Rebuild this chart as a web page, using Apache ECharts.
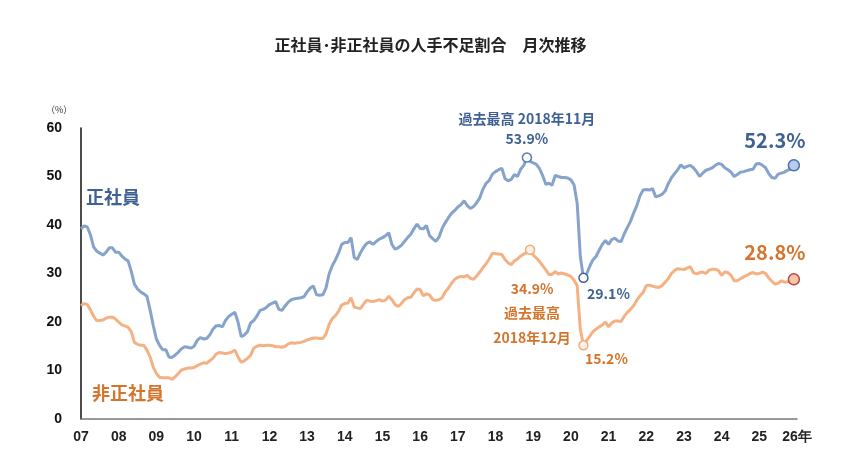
<!DOCTYPE html>
<html>
<head>
<meta charset="utf-8">
<script src="https://cdn.jsdelivr.net/npm/echarts@6/dist/echarts.min.js"></script>
<style>
  html, body { margin: 0; padding: 0; background: #fff; }
  #chart { width: 861px; height: 475px; }
</style>
</head>
<body>
<div id="chart"></div>
<script>
// monthly values, 2007-01 .. 2025-12
const startYear = 2007
const endYear = 2026

// 正社員
const regular = [
  39.2, 39.8, 39.6, 38.0, 35.5, 34.6, 34.2, 33.8, 34.4, 35.3, 35.3, 34.4, // 07
  34.4, 33.6, 33.0, 32.6, 30.5, 27.8, 26.8, 26.2, 25.8, 25.3, 22.5, 19.3, // 08
  16.5, 15.2, 14.3, 14.3, 12.8, 12.7, 13.2, 13.8, 14.5, 14.9, 14.8, 14.6, // 09
  15.0, 16.2, 16.8, 16.5, 16.6, 17.3, 18.5, 19.2, 19.3, 19.0, 20.3, 21.1, // 10
  21.6, 22.0, 20.0, 17.0, 17.3, 18.0, 19.8, 20.3, 21.2, 22.4, 22.6, 23.0, // 11
  23.6, 23.9, 24.2, 22.6, 22.4, 23.3, 24.1, 24.6, 24.8, 24.9, 25.0, 25.2, // 12
  26.2, 27.0, 27.4, 25.6, 25.5, 25.6, 27.0, 29.9, 31.6, 32.8, 34.2, 36.0, // 13
  36.4, 36.4, 37.4, 33.3, 32.9, 34.3, 35.4, 36.2, 36.5, 36.0, 36.6, 37.1, // 14
  37.4, 37.8, 38.4, 36.0, 35.0, 35.3, 35.8, 36.6, 37.4, 38.1, 39.2, 40.2, // 15
  39.3, 39.2, 39.9, 37.8, 37.2, 36.6, 37.5, 39.3, 40.5, 41.5, 42.4, 43.0, // 16
  43.7, 44.2, 45.0, 44.0, 43.4, 43.8, 44.6, 45.6, 47.4, 48.6, 49.2, 50.5, // 17
  51.0, 51.4, 51.7, 49.6, 49.1, 49.4, 50.4, 50.0, 51.5, 52.3, 53.9, 53.1, // 18
  52.8, 52.5, 51.6, 50.2, 48.4, 48.6, 48.2, 50.2, 50.0, 49.8, 49.8, 49.7, // 19
  49.3, 48.3, 44.5, 33.5, 29.1, 29.9, 31.5, 32.8, 33.5, 34.8, 36.0, 36.8, // 20
  36.0, 37.0, 37.3, 36.7, 36.6, 38.2, 39.5, 40.8, 42.5, 44.0, 46.0, 47.2, // 21
  47.3, 47.2, 47.5, 45.8, 46.0, 46.3, 47.0, 48.5, 49.7, 50.6, 51.4, 52.4, // 22
  51.8, 52.1, 52.3, 51.8, 51.0, 50.0, 50.7, 51.3, 51.5, 51.8, 52.3, 52.7, // 23
  52.5, 51.8, 51.4, 50.9, 50.0, 50.4, 50.9, 51.0, 51.2, 51.4, 51.5, 52.6, // 24
  52.7, 52.3, 51.8, 50.6, 49.8, 49.6, 50.5, 50.7, 50.9, 51.3, 51.5, 52.3  // 25
]

// 非正社員
const nonRegular = [
  23.4, 23.8, 23.6, 22.5, 21.2, 20.3, 20.3, 20.4, 20.8, 21.0, 21.0, 20.6, // 07
  20.0, 19.4, 19.2, 18.9, 18.0, 15.8, 15.4, 15.2, 15.2, 14.2, 12.8, 10.7, // 08
  9.4, 8.6, 8.5, 8.5, 8.5, 8.2, 8.7, 9.4, 10.1, 10.3, 10.5, 10.5,         // 09
  10.6, 11.0, 11.3, 11.6, 11.5, 12.0, 12.5, 13.4, 13.7, 13.6, 13.5, 13.6, // 10
  13.8, 14.2, 12.8, 11.7, 12.0, 12.5, 13.1, 14.6, 15.0, 15.2, 15.1, 15.2, // 11
  15.2, 15.1, 14.9, 14.9, 14.8, 15.0, 15.5, 15.7, 15.6, 15.7, 15.8, 16.0, // 12
  16.3, 16.5, 16.7, 16.7, 16.6, 16.6, 17.5, 19.5, 20.7, 21.3, 22.2, 23.5, // 13
  23.8, 23.9, 25.0, 23.1, 22.9, 22.8, 23.7, 24.5, 24.3, 24.2, 24.4, 24.6, // 14
  24.3, 24.5, 25.3, 24.6, 23.6, 23.2, 23.8, 24.6, 25.0, 25.1, 26.0, 26.8, // 15
  26.7, 25.4, 25.8, 25.6, 24.6, 24.5, 24.6, 25.0, 26.2, 27.0, 28.0, 28.8, // 16
  29.2, 29.4, 29.3, 29.6, 29.0, 28.8, 29.5, 30.3, 31.2, 32.0, 33.0, 34.2, // 17
  34.1, 34.0, 33.9, 32.9, 32.2, 31.8, 32.6, 33.0, 33.6, 34.0, 34.3, 34.9, // 18
  33.8, 33.2, 32.5, 31.6, 30.8, 29.8, 29.8, 30.4, 29.9, 30.1, 29.9, 29.7, // 19
  29.4, 28.6, 27.5, 18.5, 15.2, 16.2, 17.0, 18.0, 18.5, 19.0, 19.4, 20.0, // 20
  19.0, 19.8, 20.2, 20.2, 20.1, 21.2, 22.0, 22.6, 23.4, 24.5, 25.4, 26.1, // 21
  27.5, 27.6, 27.4, 27.2, 27.1, 27.5, 28.2, 28.9, 30.0, 30.6, 31.0, 30.9, // 22
  30.8, 31.1, 31.4, 30.2, 29.9, 30.2, 30.3, 30.0, 30.7, 30.9, 30.9, 30.6, // 23
  29.6, 30.3, 30.2, 29.6, 28.5, 28.5, 28.9, 29.3, 29.6, 30.0, 30.2, 29.9, // 24
  30.0, 30.3, 30.0, 29.1, 28.4, 27.8, 28.0, 28.5, 28.2, 28.3, 28.5, 28.8  // 25
]

const yearLabels = ['07', '08', '09', '10', '11', '12', '13', '14', '15', '16',
  '17', '18', '19', '20', '21', '22', '23', '24', '25', '26年']

// months that get a marker
const regularPeak = '2018-11'
const nonRegularPeak = '2018-12'
const covidLow = '2020-05'

const FONT = '"Noto Sans CJK JP", "Noto Sans", sans-serif'
const NUM_FONT = '"Liberation Sans", Arial, sans-serif'
const BLUE_LINE = '#86a3cb'
const ORANGE_LINE = '#f4b183'
const BLUE_TEXT = '#3f6194'
const ORANGE_TEXT = '#d5742c'

const monthIndex = (ym) => {
  const [y, m] = ym.split('-').map(Number)
  return (y - startYear) * 12 + m - 1
}

const pct = (p) => p.value[1].toFixed(1) + '%'

const toData = (values, marks) =>
  values.map((v, i) => {
    const x = startYear + i / 12
    const mk = marks[i]
    if (!mk) return [x, v]
    return {
      value: [x, v],
      symbol: 'circle',
      symbolSize: mk.size,
      itemStyle: mk.itemStyle,
      label: Object.assign({ show: true, fontFamily: FONT, fontWeight: 'bold' }, mk.label)
    }
  })

const regularMarks = {
  [monthIndex(regularPeak)]: {
    size: 9,
    itemStyle: { color: '#fff', borderColor: '#5a7fb5', borderWidth: 1.5 },
    label: {
      position: 'top', distance: 4, color: BLUE_TEXT, fontSize: 14, lineHeight: 20,
      formatter: (p) => '過去最高 2018年11月\n' + pct(p)
    }
  },
  [monthIndex(covidLow)]: {
    size: 9,
    itemStyle: { color: '#fff', borderColor: '#3f6194', borderWidth: 1.5 },
    label: {
      position: 'bottom', distance: 3, offset: [25, 0], color: BLUE_TEXT, fontSize: 14, lineHeight: 16,
      formatter: pct
    }
  },
  [regular.length - 1]: {
    size: 11,
    itemStyle: { color: '#b7cbea', borderColor: '#4a70ad', borderWidth: 1.5 },
    label: {
      position: 'top', distance: 7, offset: [-19, 0], color: BLUE_TEXT, fontSize: 20, lineHeight: 24,
      formatter: pct
    }
  }
}

const nonRegularMarks = {
  [monthIndex(nonRegularPeak)]: {
    size: 9,
    itemStyle: { color: '#fdf0e6', borderColor: '#f2ac7c', borderWidth: 1.5 },
    label: {
      position: 'bottom', distance: 21, offset: [2, 0], color: ORANGE_TEXT, fontSize: 14, lineHeight: 24.5,
      formatter: (p) => pct(p) + '\n過去最高\n2018年12月'
    }
  },
  [monthIndex(covidLow)]: {
    size: 9,
    itemStyle: { color: '#fdf0e6', borderColor: '#f2ac7c', borderWidth: 1.5 },
    label: {
      position: 'bottom', distance: 0, offset: [23, 0], color: ORANGE_TEXT, fontSize: 14, lineHeight: 16,
      formatter: pct
    }
  },
  [nonRegular.length - 1]: {
    size: 11,
    itemStyle: { color: '#f8c6a6', borderColor: '#b5474a', borderWidth: 1.5 },
    label: {
      position: 'top', distance: 9, offset: [-19, 0], color: ORANGE_TEXT, fontSize: 20, lineHeight: 24,
      formatter: pct
    }
  }
}

const chart = echarts.init(document.getElementById('chart'))

chart.setOption({
  animation: false,
  backgroundColor: '#fff',
  title: {
    text: '正社員･非正社員の人手不足割合　月次推移',
    left: 'center',
    top: 32,
    textStyle: { fontFamily: FONT, fontSize: 16, fontWeight: 'bold', color: '#222' }
  },
  grid: { left: 81, right: 64, top: 128, bottom: 56 },
  xAxis: {
    type: 'value',
    min: startYear,
    max: endYear,
    interval: 1,
    splitLine: { show: false },
    axisTick: { show: false },
    axisLine: { show: true, lineStyle: { color: '#777', width: 1.5 } },
    axisLabel: {
      margin: 11,
      color: '#222',
      fontFamily: NUM_FONT,
      fontWeight: 'bold',
      fontSize: 14,
      formatter: (v) => yearLabels[Math.round(v - startYear)] || ''
    }
  },
  yAxis: {
    type: 'value',
    min: 0,
    max: 60,
    interval: 10,
    splitLine: { show: false },
    axisTick: { show: false },
    axisLine: { show: true, lineStyle: { color: '#111', width: 1.5 } },
    axisLabel: {
      margin: 19,
      color: '#111',
      fontFamily: NUM_FONT,
      fontWeight: 'bold',
      fontSize: 14
    }
  },
  graphic: [
    {
      type: 'text', left: 46, top: 105,
      style: { text: '（%）', fontFamily: FONT, fontSize: 9, fill: '#333' }
    },
    {
      type: 'text', left: 86, top: 188,
      style: { text: '正社員', fontFamily: FONT, fontSize: 18, fontWeight: 'bold', fill: BLUE_TEXT }
    },
    {
      type: 'text', left: 92, top: 384,
      style: { text: '非正社員', fontFamily: FONT, fontSize: 18, fontWeight: 'bold', fill: ORANGE_TEXT }
    }
  ],
  series: [
    {
      name: '正社員',
      type: 'line',
      symbol: 'none',
      showSymbol: true,
      showAllSymbol: true,
      lineStyle: { color: BLUE_LINE, width: 3 },
      itemStyle: { color: BLUE_LINE },
      emphasis: { disabled: true },
      z: 3,
      data: toData(regular, regularMarks)
    },
    {
      name: '非正社員',
      type: 'line',
      symbol: 'none',
      showSymbol: true,
      showAllSymbol: true,
      lineStyle: { color: ORANGE_LINE, width: 3 },
      itemStyle: { color: ORANGE_LINE },
      emphasis: { disabled: true },
      z: 2,
      data: toData(nonRegular, nonRegularMarks)
    }
  ]
})
</script>
</body>
</html>
